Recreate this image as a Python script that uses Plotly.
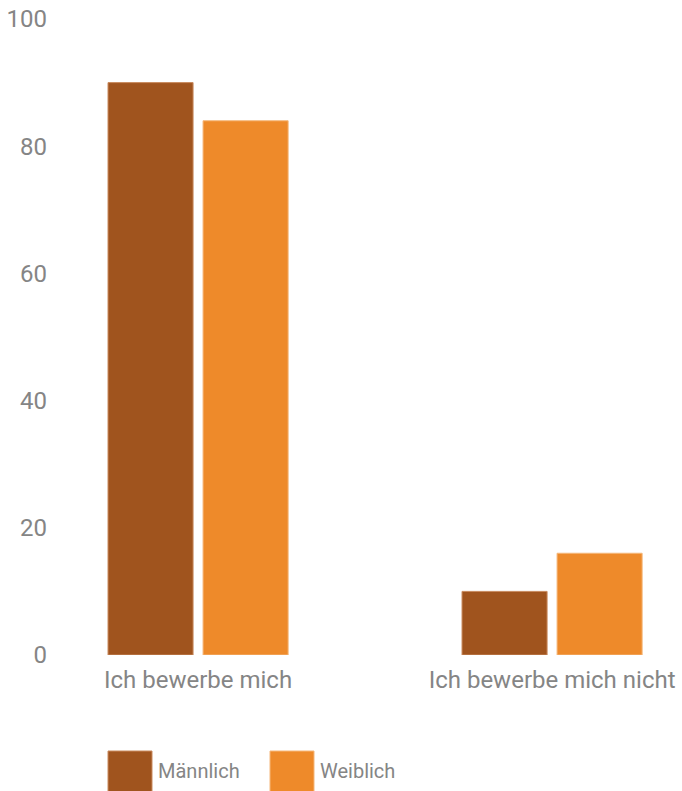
import plotly.graph_objects as go

categories = ["Ich bewerbe mich", "Ich bewerbe mich nicht"]
series_names = ["Männlich", "Weiblich"]
maennlich = [90, 10]
weiblich = [84, 16]
y_ticks = [0, 20, 40, 60, 80, 100]

colors = ["#A0541E", "#EE8A2A"]
edge_colors = ["#C98A5E", "#F5B77A"]
font_family = "Roboto, sans-serif"
text_color = "#858585"

fig = go.Figure()
for name, vals, c, ec in zip(series_names, [maennlich, weiblich], colors, edge_colors):
    fig.add_trace(go.Bar(x=categories, y=vals, name=name,
                         marker=dict(color=c, line=dict(color=ec, width=1)),
                         showlegend=False))

fig.update_layout(
    width=682, height=791,
    margin=dict(l=60, r=0, t=19, b=136),
    paper_bgcolor="white", plot_bgcolor="white",
    barmode="group", bargap=0.463, bargroupgap=0.105,
    font=dict(family=font_family, color=text_color, size=24),
    xaxis=dict(range=[-0.39, 1.367], showgrid=False, showline=False,
               zeroline=False, ticks="", tickfont=dict(size=24),
               automargin=False, ticklabelstandoff=8),
    yaxis=dict(range=[0, 100], tickvals=y_ticks, showgrid=False, showline=False,
               zeroline=False, ticks="", tickfont=dict(size=24), ticklabelstandoff=12,
               automargin=False),
)

# custom legend with large swatches
legend_x = [108, 270]
for i, (name, c, ec) in enumerate(zip(series_names, colors, edge_colors)):
    x0 = legend_x[i]
    fig.add_shape(type="rect", xref="paper", yref="paper",
                  x0=(x0 - 60) / 622, x1=(x0 + 44 - 60) / 622,
                  y0=(655 - 792) / 636, y1=(655 - 751) / 636,
                  fillcolor=c, line=dict(color=ec, width=1))
    fig.add_annotation(xref="paper", yref="paper", x=(x0 + 48 - 60) / 622,
                       y=(655 - 771) / 636, text=name, showarrow=False,
                       xanchor="left", yanchor="middle",
                       font=dict(size=20, color=text_color, family=font_family))

fig.write_html("out.html")
